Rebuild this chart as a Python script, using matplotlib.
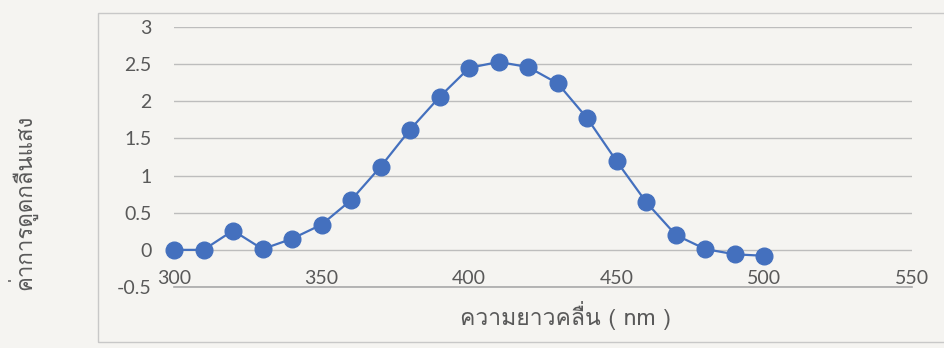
import matplotlib
matplotlib.use("Agg")
import matplotlib.pyplot as plt
from matplotlib import font_manager
from matplotlib.ft2font import FT2Font
from matplotlib.patches import Rectangle

# Absorbance spectrum readings
wavelength = [300, 310, 320, 330, 340, 350, 360, 370, 380, 390, 400,
              410, 420, 430, 440, 450, 460, 470, 480, 490, 500]
absorbance = [0.00, 0.00, 0.26, 0.01, 0.15, 0.34, 0.67, 1.12, 1.62, 2.06, 2.45,
              2.53, 2.46, 2.24, 1.77, 1.19, 0.64, 0.20, 0.01, -0.06, -0.08]

x_ticks = [300, 350, 400, 450, 500, 550]
y_ticks = [-0.5, 0, 0.5, 1, 1.5, 2, 2.5, 3]
y_tick_labels = ["-0.5", "0", "0.5", "1", "1.5", "2", "2.5", "3"]
x_label = "ความยาวคลื่น ( nm )"
y_label = "ค่าการดูดกลืนแสง"


def thai_families():
    """Return installed family names that carry Thai glyphs."""
    found = []
    for f in font_manager.fontManager.ttflist:
        try:
            cmap = FT2Font(f.fname).get_charmap()
        except Exception:
            continue
        if 0x0E04 in cmap and 0x0E48 in cmap and f.name not in found:
            found.append(f.name)
    return found


families = thai_families() + ["DejaVu Sans"]

BG = "#f5f4f1"
TXT = "#595959"
GRID = "#bdbdbd"
BLUE = "#4470be"

fig = plt.figure(figsize=(9.44, 3.48), dpi=100, facecolor=BG)
ax = fig.add_axes([174 / 944, 1 - 287 / 348, (912 - 174) / 944, (287 - 27) / 348])
ax.set_facecolor(BG)

# chart frame
fig.patches.append(Rectangle((98 / 944, 1 - 342 / 348), 0.99, (342 - 13) / 348,
                             transform=fig.transFigure, fill=False,
                             edgecolor="#c8c8c8", linewidth=1.0, zorder=0))

ax.set_xlim(x_ticks[0], x_ticks[-1])
ax.set_ylim(y_ticks[0], y_ticks[-1])

# horizontal axis line along the lowest value
ax.axhline(y_ticks[0], color="#a9a9a9", linewidth=1.2, clip_on=False, zorder=2.6)

ax.plot(wavelength, absorbance, color=BLUE, linewidth=1.6, marker="o",
        markersize=12, markerfacecolor=BLUE, markeredgecolor=BLUE, zorder=3,
        clip_on=False)

ax.set_yticks(y_ticks)
ax.set_yticklabels(y_tick_labels)
ax.set_xticks(x_ticks)
ax.set_xticklabels([str(v) for v in x_ticks])
ax.grid(axis="y", color=GRID, linewidth=1.0)
ax.set_axisbelow(True)
for s in ["top", "right", "left", "bottom"]:
    ax.spines[s].set_visible(False)

ax.tick_params(axis="y", length=0, pad=16, labelsize=14, labelcolor=TXT)
ax.tick_params(axis="x", length=0, pad=-12, labelsize=14, labelcolor=TXT)
for lab in ax.get_xticklabels() + ax.get_yticklabels():
    lab.set_fontfamily(["Lato", "DejaVu Sans"])

fig.text(565 / 944, 1 - 316 / 348, x_label, ha="center", va="center",
         fontsize=16.5, color=TXT, family=families)
fig.text(22 / 944, 1 - 202 / 348, y_label, ha="center", va="center",
         rotation=90, fontsize=16, color=TXT, family=families)

fig.savefig("out.png", dpi=100, facecolor=BG)
